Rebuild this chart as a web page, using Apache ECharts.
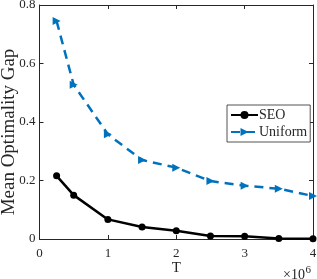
<!DOCTYPE html>
<html>
<head>
<meta charset="utf-8">
<script src="https://cdn.jsdelivr.net/npm/echarts@6/dist/echarts.min.js"></script>
<style>html,body{margin:0;padding:0;background:#fff;}#c{width:317px;height:279px;}</style>
</head>
<body>
<div id="c"></div>
<script>
var T = [0.25e6, 0.5e6, 1e6, 1.5e6, 2e6, 2.5e6, 3e6, 3.5e6, 4e6];
var seo = [0.216, 0.150, 0.067, 0.041, 0.028, 0.010, 0.009, 0.002, 0.001];
var uniform = [0.745, 0.527, 0.358, 0.270, 0.244, 0.198, 0.182, 0.172, 0.147];
var xTicks = [0, 1, 2, 3, 4];
var yTicks = [0, 0.2, 0.4, 0.6, 0.8];
var xLabel = 'T';
var yLabel = 'Mean Optimality Gap';
var seriesNames = ['SEO', 'Uniform'];

var font = 'Liberation Serif';
var chart = echarts.init(document.getElementById('c'), null, {renderer: 'canvas'});
function pairs(xs, ys) { return xs.map(function (x, i) { return [x, ys[i]]; }); }
var axisCommon = {
  min: 0,
  axisLine: {show: true, onZero: false, lineStyle: {color: '#262626', width: 1}},
  axisTick: {show: true, inside: true, length: 4, lineStyle: {color: '#262626'}},
  splitLine: {show: false}
};
var option = {
  animation: false,
  backgroundColor: '#fff',
  grid: {left: 39.5, right: 4, top: 5, bottom: 40, containLabel: false, outerBoundsMode: 'none'},
  xAxis: [
    Object.assign({}, axisCommon, {
      type: 'value', max: 4e6, interval: 1e6, position: 'bottom',
      axisLabel: {fontFamily: font, fontSize: 13, color: '#262626', margin: 8,
        formatter: function (v) { return String(v / 1e6); }},
      name: xLabel, nameLocation: 'middle', nameGap: 22, nameMoveOverlap: false,
      nameTextStyle: {fontFamily: font, fontSize: 15, color: '#262626'}
    }),
    Object.assign({}, axisCommon, {
      type: 'value', max: 4e6, interval: 1e6, position: 'top',
      axisLabel: {show: false}
    })
  ],
  yAxis: [
    Object.assign({}, axisCommon, {
      type: 'value', max: 0.8, interval: 0.2, position: 'left',
      axisLabel: {fontFamily: font, fontSize: 13, color: '#262626', margin: 4,
        formatter: function (v) { return v === 0 ? '0' : String(Math.round(v * 10) / 10); }},
      name: yLabel, nameLocation: 'middle', nameGap: 21, nameMoveOverlap: false,
      nameTextStyle: {fontFamily: font, fontSize: 19, color: '#262626', padding: [0, 20, 0, 0]}
    }),
    Object.assign({}, axisCommon, {
      type: 'value', max: 0.8, interval: 0.2, position: 'right',
      axisLabel: {show: false}
    })
  ],
  legend: {
    left: 227, top: 105, orient: 'vertical',
    backgroundColor: '#fff', borderColor: '#262626', borderWidth: 0.8,
    padding: [3, 3, 3, 3], itemGap: 3, itemWidth: 27, itemHeight: 10,
    textStyle: {fontFamily: font, fontSize: 14, color: '#262626', padding: [0, 0, 0, -4]},
    data: seriesNames
  },
  series: [
    {
      name: seriesNames[0], type: 'line', data: pairs(T, seo),
      symbol: 'circle', symbolSize: 7,
      lineStyle: {color: '#000', width: 2.5},
      itemStyle: {color: '#000'}
    },
    {
      name: seriesNames[1], type: 'line', data: pairs(T, uniform),
      symbol: 'triangle', symbolSize: 8, symbolRotate: -90,
      lineStyle: {color: '#0072BD', width: 2.5, type: [9, 6]},
      itemStyle: {color: '#0072BD'}
    }
  ],
  graphic: [
    {type: 'text', x: 305, y: 275,
      style: {text: '×10', fontFamily: font, fontSize: 14, fill: '#262626', align: 'right', verticalAlign: 'middle'}},
    {type: 'text', x: 305.5, y: 270,
      style: {text: '6', fontFamily: font, fontSize: 11, fill: '#262626', align: 'left', verticalAlign: 'middle'}}
  ]
};
chart.setOption(option);
</script>
</body>
</html>
